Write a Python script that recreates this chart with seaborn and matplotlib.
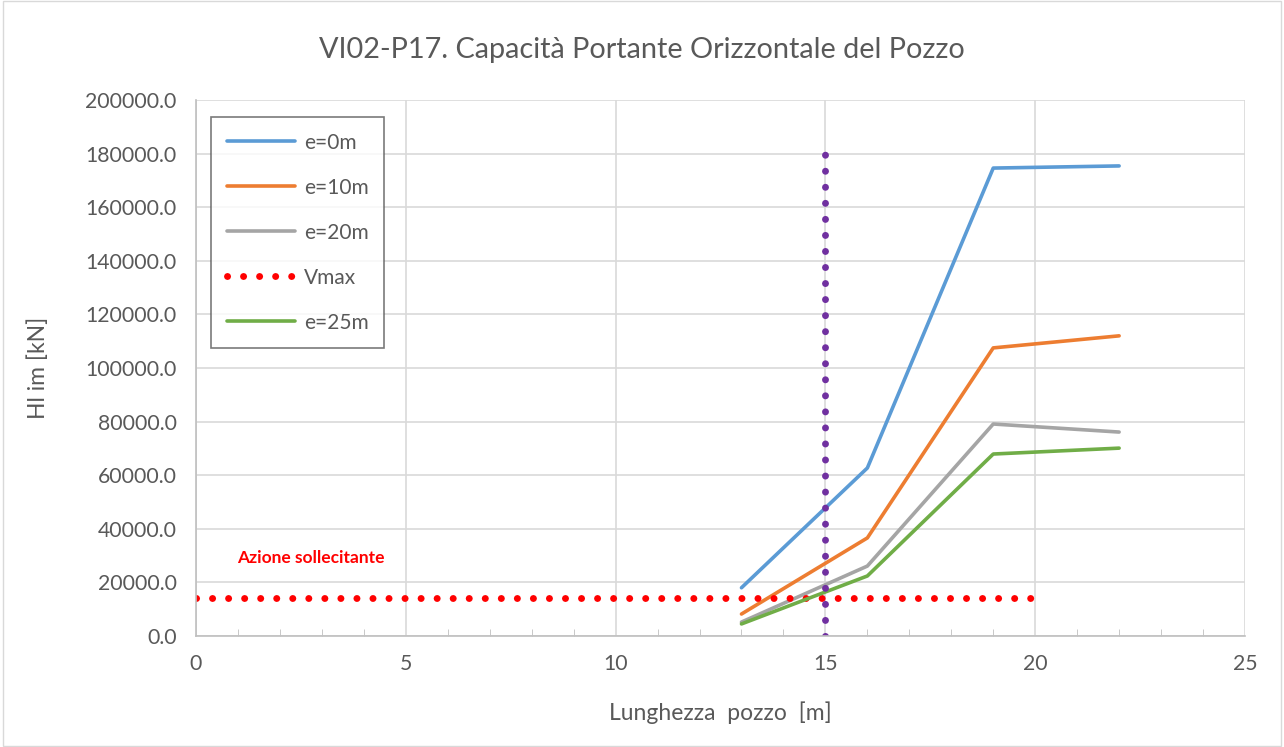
import matplotlib
matplotlib.use("Agg")
import matplotlib.pyplot as plt
import seaborn as sns

# data
lunghezza = [13, 16, 19, 22]
h_e0 = [18000, 62700, 174600, 175400]
h_e10 = [8200, 36600, 107500, 112000]
h_e20 = [5200, 26100, 79100, 76100]
h_e25 = [4500, 22400, 67900, 70100]
vmax_x = [0, 20]
vmax_y = [14000, 14000]
lim_x = [15, 15]
lim_y = [0, 180000]

sns.set_style("white")
plt.rcParams['font.family'] = ['Lato', 'DejaVu Sans']

fig = plt.figure(figsize=(12.84, 7.47), dpi=100)
ax = fig.add_axes([196 / 1284, 1 - 636 / 747, (1245 - 196) / 1284, (636 - 100) / 747])

# outer frame like the excel chart area
fig.patches.append(plt.Rectangle((0.002, 0.002), 0.996, 0.996, transform=fig.transFigure,
                                 fill=False, edgecolor='#d9d9d9', linewidth=1))

dotted = dict(linestyle=(0, (0.01, 2.3)), dash_capstyle='round', linewidth=5)

sns.lineplot(x=lunghezza, y=h_e0, ax=ax, color='#5b9bd5', linewidth=2.6, label='e=0m')
sns.lineplot(x=lunghezza, y=h_e10, ax=ax, color='#ed7d31', linewidth=2.6, label='e=10m')
sns.lineplot(x=lunghezza, y=h_e20, ax=ax, color='#a5a5a5', linewidth=2.6, label='e=20m')
ax.plot(vmax_x, vmax_y, color='#ff0000', label='Vmax', **dotted)
sns.lineplot(x=lunghezza, y=h_e25, ax=ax, color='#70ad47', linewidth=2.6, label='e=25m')
ax.plot(lim_x, lim_y, color='#7030a0', **dotted)

ax.set_xlim(0, 25)
ax.set_ylim(0, 200000)
ax.set_xticks(range(0, 26, 5))
ax.set_xticks(range(0, 26), minor=True)
ax.set_yticks(range(0, 200001, 20000))
ax.set_yticklabels([f"{v:.1f}" for v in range(0, 200001, 20000)])
ax.grid(True, which='major', color='#d9d9d9', linewidth=1.2)
ax.set_axisbelow(True)

for s in ['top', 'right']:
    ax.spines[s].set_visible(False)
ax.spines['left'].set_color('#bfbfbf')
ax.spines['bottom'].set_color('#bfbfbf')
ax.spines['left'].set_linewidth(1.2)
ax.spines['bottom'].set_linewidth(1.2)
ax.tick_params(axis='x', which='major', length=10, color='#bfbfbf', direction='inout',
               labelsize=15.3, labelcolor='#595959', pad=8)
ax.tick_params(axis='x', which='minor', length=5, color='#bfbfbf', direction='in', bottom=True)
ax.tick_params(axis='y', length=0, labelsize=15.3, labelcolor='#595959', pad=14)

ax.set_xlabel('Lunghezza  pozzo  [m]', fontsize=16.5, color='#595959', labelpad=20)
ax.set_ylabel('Hl im [kN]', fontsize=16.5, color='#595959', labelpad=26)
fig.text(0.5, 1 - 50 / 747, 'VI02-P17. Capacità Portante Orizzontale del Pozzo',
         ha='center', va='center', fontsize=20.8, color='#595959')

ax.text(0.98, 29000, 'Azione sollecitante', color='#ff0000', fontsize=12.5, fontweight='bold',
        va='center')

leg = ax.legend(loc='upper left', bbox_to_anchor=(0.0143, 0.968), borderaxespad=0,
                fontsize=15, frameon=True, fancybox=False, edgecolor='#595959',
                handlelength=3.3, labelspacing=1.2, borderpad=0.75, handletextpad=0.4)
leg.get_frame().set_linewidth(1.2)
for t in leg.get_texts():
    t.set_color('#595959')

fig.savefig('out.png', dpi=100)
